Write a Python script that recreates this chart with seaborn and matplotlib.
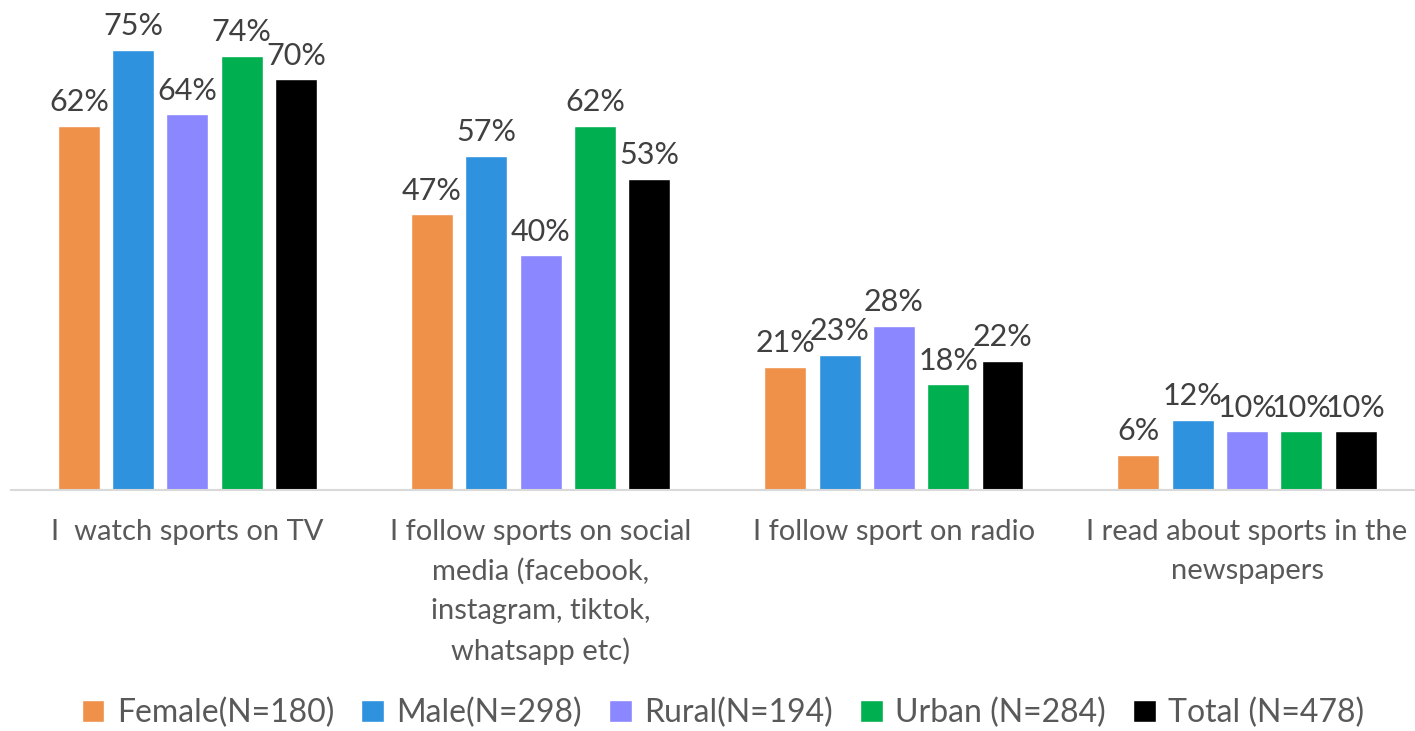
import pandas as pd
import matplotlib.pyplot as plt
import seaborn as sns

# Data
statements = [
    "I  watch sports on TV",
    "I follow sports on social\nmedia (facebook,\ninstagram, tiktok,\nwhatsapp etc)",
    "I follow sport on radio",
    "I read about sports in the\nnewspapers",
]
groups = ["Female(N=180)", "Male(N=298)", "Rural(N=194)", "Urban (N=284)", "Total (N=478)"]
female = [62, 47, 21, 6]
male = [75, 57, 23, 12]
rural = [64, 40, 28, 10]
urban = [74, 62, 18, 10]
total = [70, 53, 22, 10]
colors = ["#F0914A", "#2E92DE", "#8B87FF", "#00B050", "#000000"]

rows = []
for g, vals in zip(groups, [female, male, rural, urban, total]):
    for s, v in zip(statements, vals):
        rows.append({"statement": s, "group": g, "value": v})
df = pd.DataFrame(rows)

sns.set_style("white")
plt.rcParams["font.family"] = ["Lato", "DejaVu Sans"]

fig = plt.figure(figsize=(14.15, 7.31), dpi=100)
ax = fig.add_axes([0.0077, 0.3297, 0.9984, 0.655])

sns.barplot(
    data=df,
    x="statement",
    y="value",
    hue="group",
    order=statements,
    hue_order=groups,
    palette=colors,
    width=0.769,
    gap=0.227,
    saturation=1,
    ax=ax,
)

for c in ax.containers:
    ax.bar_label(c, fmt="{:.0f}%", padding=7, fontsize=22, color="#404040")

ax.set_ylim(0, 490 / 5.87 * 0.655 / 0.670)
ax.set_xlim(-0.5, 3.5)
ax.set_xlabel("")
ax.set_ylabel("")
ax.set_yticks([])
for side in ["left", "right", "top"]:
    ax.spines[side].set_visible(False)
ax.spines["bottom"].set_color("#D9D9D9")
ax.spines["bottom"].set_linewidth(1.5)
ax.tick_params(axis="x", length=0, pad=21, labelsize=21, labelcolor="#595959")
for t in ax.get_xticklabels():
    t.set_linespacing(1.6)

handles, labels = ax.get_legend_handles_labels()
ax.legend_.remove()
fig.legend(
    handles, labels,
    loc="center",
    bbox_to_anchor=(0.511, 0.025),
    ncol=5,
    frameon=False,
    fontsize=23,
    labelcolor="#595959",
    handlelength=0.7,
    handleheight=0.7,
    handletextpad=0.4,
    columnspacing=0.85,
)

fig.savefig("out.png", dpi=100)
